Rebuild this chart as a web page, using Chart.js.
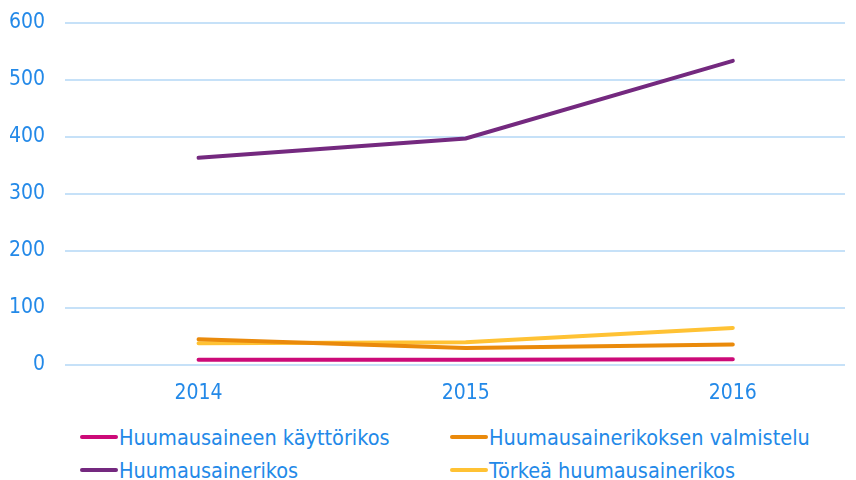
<!DOCTYPE html>
<html>
<head>
    <title>Huumausainerikokset</title>
    <script src="https://cdn.jsdelivr.net/npm/chart.js"></script>
    <style>
        body { margin: 0; background: #fff; overflow: hidden; }
        .wrap { position: relative; width: 856px; height: 480px; overflow: hidden; }
        .chart-box { position: absolute; left: 0; top: -10px; width: 856px; height: 420px; }
        .legend {
            position: absolute; left: 80px; top: 425px;
            display: grid; grid-template-columns: 370px 380px; row-gap: 9px;
            font-family: "DejaVu Sans Condensed", "DejaVu Sans", sans-serif;
            font-size: 21.5px; color: #2389E8;
        }
        .legend div { display: flex; align-items: center; height: 24px; white-space: nowrap; }
        .legend span.mark { display: inline-block; width: 38px; height: 4px; border-radius: 2px; margin-right: 1px; }
    </style>
</head>
<body>
<div class="wrap">
    <div class="chart-box"><canvas id="chart"></canvas></div>
    <div class="legend" id="legend"></div>
</div>

<script>
    // vuodet (x-akseli)
    const years = [2014, 2015, 2016];

    // sarjat
    const kayttorikos = [9, 9, 10];
    const valmistelu = [45, 30, 36];
    const huumausainerikos = [363, 397, 533];
    const torkea = [38, 40, 65];

    const seriesNames = [
        'Huumausaineen käyttörikos',
        'Huumausainerikoksen valmistelu',
        'Huumausainerikos',
        'Törkeä huumausainerikos'
    ];
    const seriesData = [kayttorikos, valmistelu, huumausainerikos, torkea];
    const seriesColors = ['#CC0A78', '#EA8A0B', '#74297F', '#FFC234'];

    const yTicks = [0, 100, 200, 300, 400, 500, 600];

    const font = { family: '"DejaVu Sans Condensed", "DejaVu Sans", sans-serif', size: 21 };
    const blue = '#2389E8';

    const datasets = seriesNames.map((name, i) => ({
        label: name,
        data: seriesData[i].map((v, j) => ({ x: years[j], y: v })),
        borderColor: seriesColors[i],
        backgroundColor: seriesColors[i],
        borderWidth: 4,
        borderCapStyle: 'round',
        pointRadius: 0,
        tension: 0,
        fill: false
    }));

    const ctx = document.getElementById('chart').getContext('2d');
    const chart = new Chart(ctx, {
        type: 'line',
        data: { datasets: datasets },
        options: {
            responsive: true,
            maintainAspectRatio: false,
            animation: false,
            layout: { padding: { top: 4, right: 11, left: 10, bottom: 0 } },
            plugins: { legend: { display: false }, tooltip: { enabled: false } },
            scales: {
                x: {
                    type: 'linear',
                    min: years[0] - 0.5,
                    max: years[years.length - 1] + 0.42,
                    afterBuildTicks: axis => { axis.ticks = years.map(y => ({ value: y })); },
                    afterFit: axis => { axis.height = 45; },
                    grid: { display: false },
                    border: { display: false },
                    ticks: { color: blue, font: font, padding: 8, callback: v => String(v) }
                },
                y: {
                    min: yTicks[0],
                    max: yTicks[yTicks.length - 1],
                    afterBuildTicks: axis => { axis.ticks = yTicks.map(v => ({ value: v })); },
                    afterFit: axis => { axis.width = 55; },
                    grid: { color: '#C6E1F8', lineWidth: 2, drawTicks: false },
                    border: { display: false },
                    ticks: { color: blue, font: font, padding: 20 }
                }
            }
        }
    });

    // HTML-selite kahdessa sarakkeessa
    const legend = document.getElementById('legend');
    seriesNames.forEach((name, i) => {
        const item = document.createElement('div');
        const mark = document.createElement('span');
        mark.className = 'mark';
        mark.style.background = seriesColors[i];
        item.appendChild(mark);
        item.appendChild(document.createTextNode(name));
        legend.appendChild(item);
    });
</script>
</body>
</html>
